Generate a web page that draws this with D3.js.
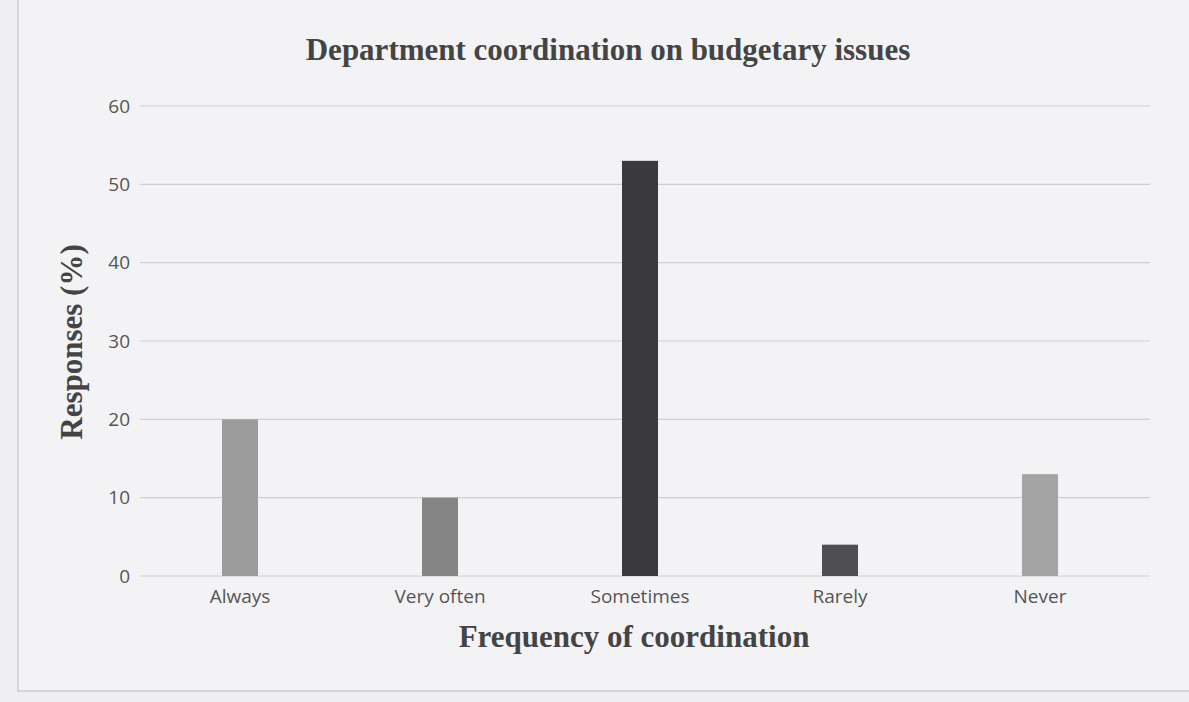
<!DOCTYPE html>
<html>
<head>
<meta charset="utf-8">
<script src="https://cdn.jsdelivr.net/npm/d3@7"></script>
<style>
  html, body { margin: 0; padding: 0; background: #eeeef0; }
  svg { display: block; }
</style>
</head>
<body>
<svg id="chart" width="1189" height="702"></svg>
<script>
const categories = ["Always", "Very often", "Sometimes", "Rarely", "Never"];
const values = [20, 10, 53, 4, 13];
const barColors = ["#9c9c9c", "#858585", "#3a393c", "#4f4f52", "#a4a4a4"];
const yTicks = [0, 10, 20, 30, 40, 50, 60];
const chartTitle = "Department coordination on budgetary issues";
const xTitle = "Frequency of coordination";
const yTitle = "Responses (%)";

const svg = d3.select("#chart");
const W = 1189, H = 702;
const margin = { left: 140, right: 49, top: 106, bottom: 126 };

svg.append("rect").attr("x", 0).attr("y", 0).attr("width", W).attr("height", H).attr("fill", "#efeff1");
svg.append("rect").attr("x", 18).attr("y", -5).attr("width", 1180).attr("height", 696)
  .attr("fill", "#f3f3f5").attr("stroke", "#c4c4c8").attr("stroke-width", 1.2);

const x = d3.scaleBand().domain(categories).range([margin.left, W - margin.right]).paddingInner(0.82).paddingOuter(0.41);
const y = d3.scaleLinear().domain([0, 60]).range([H - margin.bottom, margin.top]);

// gridlines
svg.append("g").selectAll("line").data(yTicks).join("line")
  .attr("x1", margin.left).attr("x2", W - margin.right + 10)
  .attr("y1", d => y(d)).attr("y2", d => y(d))
  .attr("stroke", "#cfcfd2").attr("stroke-width", 1.2);

// y axis labels
const yAxis = d3.axisLeft(y).tickValues(yTicks).tickSize(0).tickPadding(10);
const gy = svg.append("g").attr("transform", `translate(${margin.left},0)`).call(yAxis);
gy.select(".domain").remove();
gy.selectAll("text").attr("font-family", "'Open Sans', 'Liberation Sans', sans-serif")
  .attr("font-size", 19).attr("fill", "#555");

// bars
svg.append("g").selectAll("rect").data(categories).join("rect")
  .attr("x", d => x(d)).attr("width", x.bandwidth())
  .attr("y", (d, i) => y(values[i])).attr("height", (d, i) => y(0) - y(values[i]))
  .attr("fill", (d, i) => barColors[i]);

// x axis labels
const xAxis = d3.axisBottom(x).tickSize(0).tickPadding(14);
const gx = svg.append("g").attr("transform", `translate(0,${y(0)})`).call(xAxis);
gx.select(".domain").remove();
gx.selectAll("text").attr("font-family", "'Open Sans', 'Liberation Sans', sans-serif")
  .attr("font-size", 19).attr("fill", "#555");

// titles
svg.append("text").attr("x", 608).attr("y", 60).attr("text-anchor", "middle")
  .attr("font-family", "'Liberation Serif', 'DejaVu Serif', serif").attr("font-weight", "bold")
  .attr("font-size", 31).attr("fill", "#444").text(chartTitle);

svg.append("text").attr("x", 634).attr("y", 647).attr("text-anchor", "middle")
  .attr("font-family", "'Liberation Serif', 'DejaVu Serif', serif").attr("font-weight", "bold")
  .attr("font-size", 31).attr("fill", "#444").text(xTitle);

svg.append("text").attr("transform", "translate(82,342) rotate(-90)").attr("text-anchor", "middle")
  .attr("font-family", "'Liberation Serif', 'DejaVu Serif', serif").attr("font-weight", "bold")
  .attr("font-size", 31).attr("fill", "#444").text(yTitle);
</script>
</body>
</html>
